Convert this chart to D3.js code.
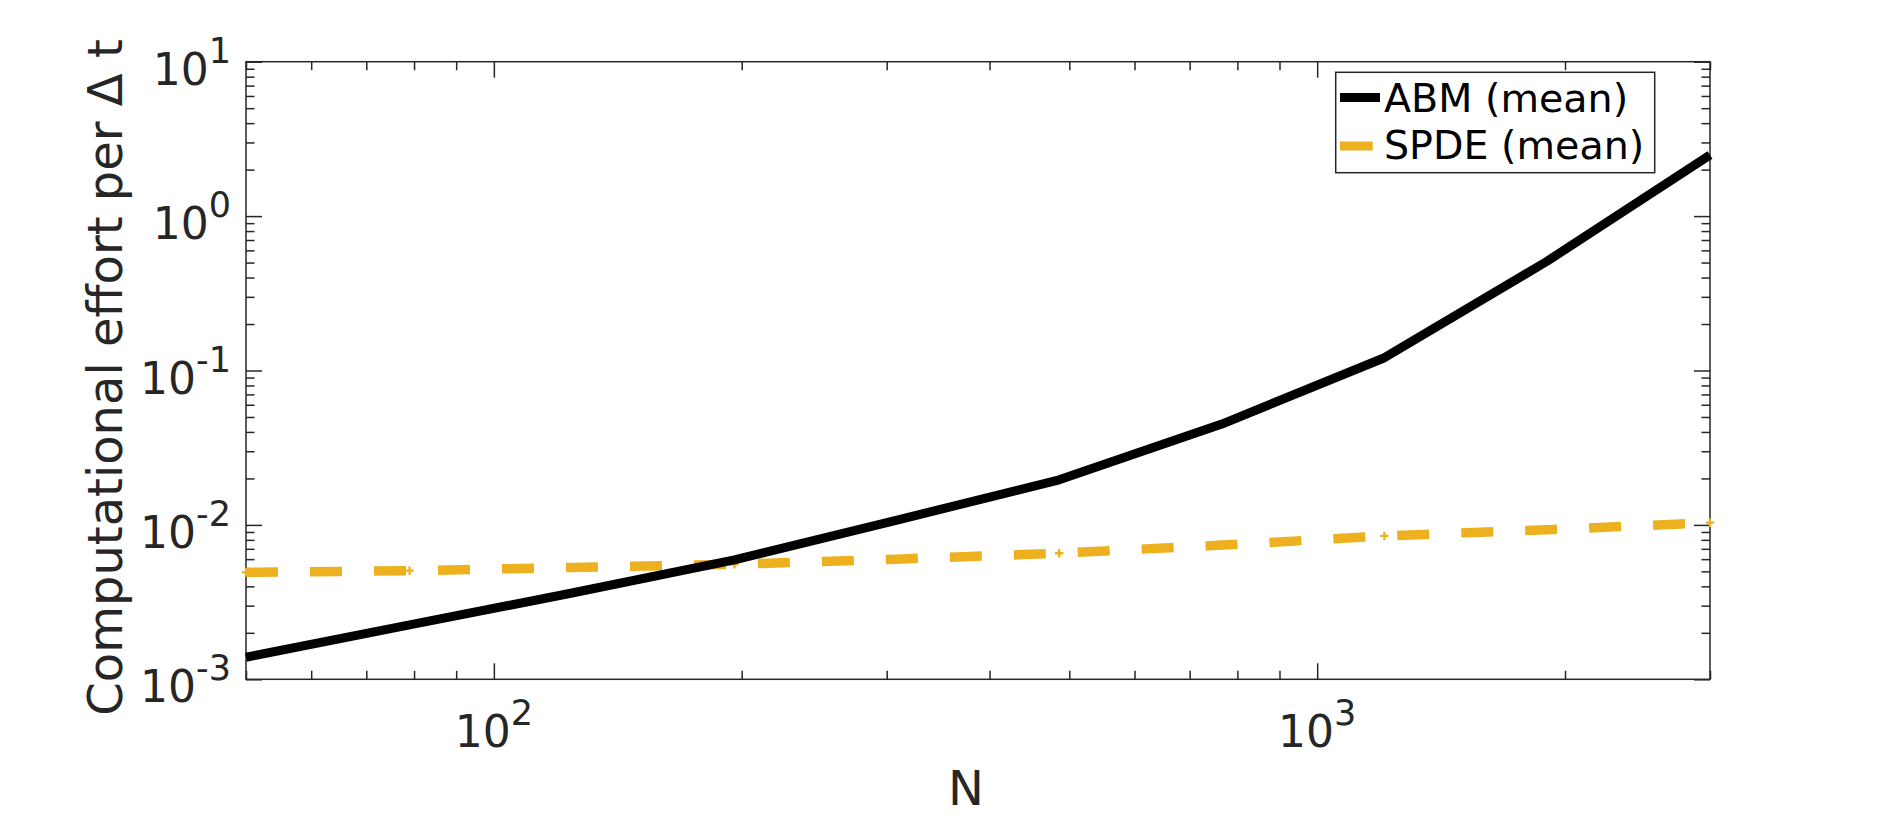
<!DOCTYPE html>
<html>
<head>
<meta charset="utf-8">
<script src="https://cdn.jsdelivr.net/npm/d3@7/dist/d3.min.js"></script>
<style>
  html, body { margin: 0; padding: 0; background: #ffffff; }
  svg { display: block; }
  text { font-family: "DejaVu Sans", sans-serif; fill: #262626; }
</style>
</head>
<body>
<svg id="chart" width="1890" height="817"></svg>
<script>
// ---- data ----
const N = [50, 79, 124, 196, 308, 486, 766, 1207, 1902, 3000];
const abmMean = [0.00139, 0.00225, 0.00361, 0.00593, 0.0107, 0.0196, 0.045, 0.121, 0.51, 2.49];
const spdeMean = [0.00493, 0.00505, 0.0053, 0.00556, 0.0060, 0.00655, 0.0074, 0.00848, 0.0093, 0.01033];
const seriesNames = ["ABM (mean)", "SPDE (mean)"];
const xDomain = [50, 3000];
const yDomain = [1e-3, 1e1];
const xMajorExps = [2, 3];
const yMajorExps = [-3, -2, -1, 0, 1];
const xLabel = "N";
const yLabel = "Computational effort per \u0394 t";

(function () {
// ---- layout ----
const pL = 246, pR = 1710, pT = 61.7, pB = 679.3;
const axisColor = "#262626";
const spdeColor = "#EDB120";

const svg = d3.select("#chart");
const x = d3.scaleLog().domain(xDomain).range([pL, pR]);
const y = d3.scaleLog().domain(yDomain).range([pB, pT]);

const isMajor = v => Math.abs(Math.log10(v) - Math.round(Math.log10(v))) < 1e-9;
const xMinor = x.ticks().filter(v => !isMajor(v));
const xMajor = xMajorExps.map(e => Math.pow(10, e));
const yMinor = y.ticks().filter(v => !isMajor(v));
const yMajor = yMajorExps.map(e => Math.pow(10, e));

function drawAxis(gen, transform) {
  const g = svg.append("g").attr("transform", transform).call(gen);
  g.select(".domain").remove();
  g.selectAll(".tick line").attr("stroke", axisColor).attr("stroke-width", 1.5);
  g.selectAll(".tick text").remove();
  return g;
}
drawAxis(d3.axisBottom(x).tickValues(xMinor).tickSize(-8.5), `translate(0,${pB})`);
drawAxis(d3.axisBottom(x).tickValues(xMajor).tickSize(-16), `translate(0,${pB})`);
drawAxis(d3.axisTop(x).tickValues(xMinor).tickSize(-8.5), `translate(0,${pT})`);
drawAxis(d3.axisTop(x).tickValues(xMajor).tickSize(-16), `translate(0,${pT})`);
drawAxis(d3.axisLeft(y).tickValues(yMinor).tickSize(-8.5), `translate(${pL},0)`);
drawAxis(d3.axisLeft(y).tickValues(yMajor).tickSize(-16), `translate(${pL},0)`);
drawAxis(d3.axisRight(y).tickValues(yMinor).tickSize(-8.5), `translate(${pR},0)`);
drawAxis(d3.axisRight(y).tickValues(yMajor).tickSize(-16), `translate(${pR},0)`);

svg.append("rect")
  .attr("x", pL).attr("y", pT)
  .attr("width", pR - pL).attr("height", pB - pT)
  .attr("fill", "none").attr("stroke", axisColor).attr("stroke-width", 1.5);

function powLabel(sel, exp) {
  sel.append("tspan").text("10");
  sel.append("tspan").attr("dy", -22).attr("font-size", 35).text(String(exp));
}
xMajorExps.forEach(e => {
  const t = svg.append("text")
    .attr("x", x(Math.pow(10, e)))
    .attr("y", pB + 67.4)
    .attr("text-anchor", "middle")
    .attr("font-size", 44);
  powLabel(t, e);
});
yMajorExps.forEach(e => {
  const t = svg.append("text")
    .attr("x", 231)
    .attr("y", y(Math.pow(10, e)) + 23)
    .attr("text-anchor", "end")
    .attr("font-size", 44);
  powLabel(t, e);
});

svg.append("text")
  .attr("x", (pL + pR) / 2 - 12)
  .attr("y", 805)
  .attr("text-anchor", "middle")
  .attr("font-size", 48)
  .text(xLabel);
svg.append("text")
  .attr("transform", `translate(122,${(pT + pB) / 2 + 7}) rotate(-90)`)
  .attr("text-anchor", "middle")
  .attr("font-size", 48)
  .text(yLabel);

const line = d3.line().x(d => x(d[0])).y(d => y(d[1]));
const abmData = N.map((n, i) => [n, abmMean[i]]);
const spdeData = N.map((n, i) => [n, spdeMean[i]]);

const plotG = svg.append("g");
plotG.append("path")
  .datum(spdeData)
  .attr("d", line)
  .attr("fill", "none")
  .attr("stroke", spdeColor)
  .attr("stroke-width", 9.5)
  .attr("stroke-dasharray", "32 32");
plotG.selectAll(".mk").data(spdeData).enter().append("path")
  .attr("class", "mk")
  .attr("d", d => `M${x(d[0]) - 4.2},${y(d[1])}h8.4M${x(d[0])},${y(d[1]) - 4.2}v8.4`)
  .attr("stroke", spdeColor)
  .attr("stroke-width", 2.3)
  .attr("fill", "none");
plotG.append("path")
  .datum(abmData)
  .attr("d", line)
  .attr("fill", "none")
  .attr("stroke", "#000000")
  .attr("stroke-width", 9)
  .attr("stroke-linejoin", "round");

const lg = svg.append("g");
lg.append("rect")
  .attr("x", 1335.7).attr("y", 72.3)
  .attr("width", 319).attr("height", 100.4)
  .attr("fill", "#ffffff").attr("stroke", axisColor).attr("stroke-width", 1.5);
lg.append("line")
  .attr("x1", 1340).attr("x2", 1380).attr("y1", 97.5).attr("y2", 97.5)
  .attr("stroke", "#000000").attr("stroke-width", 9);
lg.append("line")
  .attr("x1", 1340).attr("x2", 1372.7).attr("y1", 146).attr("y2", 146)
  .attr("stroke", spdeColor).attr("stroke-width", 9);
lg.append("text").attr("x", 1384).attr("y", 111.7)
  .attr("font-size", 39.6).style("fill", "#000000").text(seriesNames[0]);
lg.append("text").attr("x", 1384).attr("y", 159.3)
  .attr("font-size", 39.6).style("fill", "#000000").text(seriesNames[1]);
})();
</script>
</body>
</html>
